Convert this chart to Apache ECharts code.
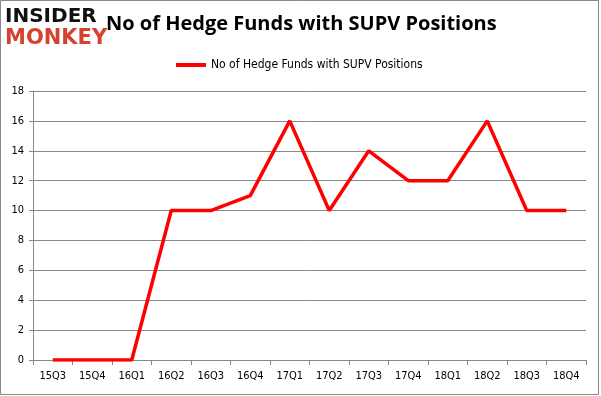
<!DOCTYPE html>
<html><head><meta charset="utf-8">
<script src="https://cdn.jsdelivr.net/npm/echarts@6/dist/echarts.min.js"></script>
<style>html,body{margin:0;padding:0;background:#fff}#c{width:601px;height:396px}</style>
</head><body><div id="c"></div>
<script>
const categories = ['15Q3','15Q4','16Q1','16Q2','16Q3','16Q4','17Q1','17Q2','17Q3','17Q4','18Q1','18Q2','18Q3','18Q4'];
const values = [0,0,0,10,10,11,16,10,14,12,12,16,10,10];
const seriesName = 'No of Hedge Funds with SUPV Positions';
const titleText = 'No of Hedge Funds with SUPV Positions';
const chart = echarts.init(document.getElementById('c'), null, {renderer:'canvas'});
chart.setOption({
  animation:false,
  backgroundColor:'#fff',
  title:{text:titleText, left:101, top:9, textStyle:{fontFamily:'Open Sans', fontWeight:'bold', fontSize:20, color:'#000'}},
  legend:{data:[seriesName], top:54, left:171, itemWidth:30, itemHeight:4, itemGap:4, icon:'rect',
    textStyle:{fontFamily:'DejaVu Sans Condensed', fontSize:12, color:'#000'}},
  grid:{left:33, right:15, top:91, bottom:36, containLabel:false},
  xAxis:{type:'category', data:categories, boundaryGap:true,
    axisLine:{lineStyle:{color:'#888', width:1}},
    axisTick:{show:true, alignWithLabel:false, length:5, lineStyle:{color:'#888'}},
    axisLabel:{color:'#000', fontFamily:'DejaVu Sans Condensed', fontSize:11, margin:11}},
  yAxis:{type:'value', min:0, max:18, interval:2,
    axisLine:{show:true, lineStyle:{color:'#888'}},
    axisTick:{show:true, length:4, lineStyle:{color:'#888'}},
    splitLine:{lineStyle:{color:'#888', width:1}},
    axisLabel:{color:'#000', fontFamily:'DejaVu Sans Condensed', fontSize:11, margin:9}},
  graphic:[
    {type:'rect', shape:{x:0.5,y:0.5,width:598,height:394}, style:{fill:'none', stroke:'#888', lineWidth:1}, silent:true},
    {type:'text', left:5, top:7, style:{text:'INSIDER', font:'900 20px "DejaVu Sans"', fill:'#111'}},
    {type:'text', left:5, top:28, style:{text:'MONKEY', font:'900 21px "DejaVu Sans"', fill:'#d4432e'}}
  ],
  series:[{name:seriesName, type:'line', data:values, symbol:'none', color:'#ff0000',
    lineStyle:{color:'#ff0000', width:3.5}}]
});
</script></body></html>
